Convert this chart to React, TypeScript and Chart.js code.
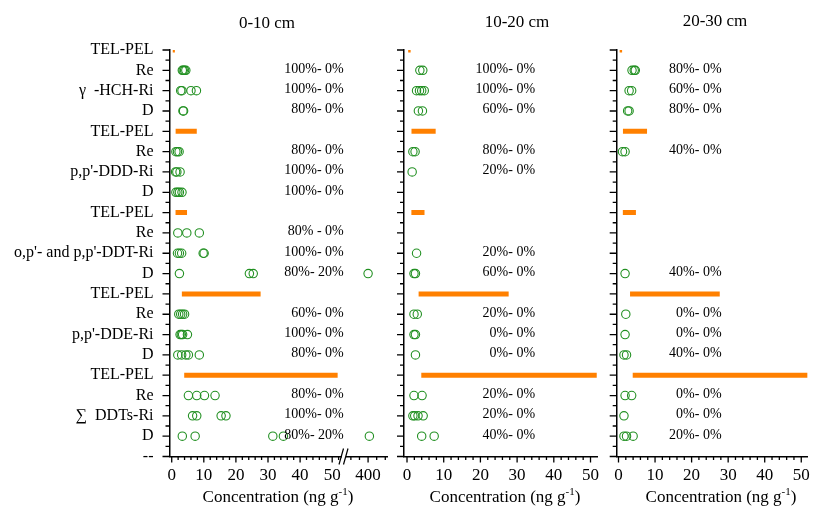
import React, { useEffect, useRef } from 'react';
import { Chart, registerables } from 'chart.js';

Chart.register(...registerables);

// ---------------- DATA ----------------
const rowLabels = [
  'TEL-PEL', 'Re', 'γ  -HCH-Ri', 'D',
  'TEL-PEL', 'Re', "p,p'-DDD-Ri", 'D',
  'TEL-PEL', 'Re', "o,p'- and p,p'-DDT-Ri", 'D',
  'TEL-PEL', 'Re', "p,p'-DDE-Ri", 'D',
  'TEL-PEL', 'Re', '∑  DDTs-Ri', 'D',
  '--',
];

const guidelineRows = [0, 4, 8, 12, 16];
const telValues = [0.32, 1.22, 1.19, 3.16, 3.89];
const pelValues = [0.99, 7.81, 4.77, 27.7, 51.7];

const xTickLabels = [0, 10, 20, 30, 40, 50];
const brokenTickLabels = [400];

const depthTitles = ['0-10 cm', '10-20 cm', '20-30 cm'];

// concentrations (ng/g) per row index
const conc0_10: number[][] = [
  [], [3.3, 3.6, 4.0, 4.4], [2.8, 3.2, 6.0, 7.7], [3.5, 3.7],
  [], [1.3, 1.8, 2.3], [1.2, 1.6, 2.6], [1.3, 1.9, 2.4, 3.2],
  [], [1.9, 4.7, 8.6], [1.8, 2.4, 3.1, 9.8, 10.1], [2.4, 24.2, 25.4, 400],
  [], [2.2, 2.8, 3.4, 4.0], [2.6, 3.0, 3.4, 4.9], [1.9, 3.1, 4.4, 5.2, 8.6],
  [], [5.2, 7.8, 10.2, 13.5], [6.5, 7.8, 15.4, 16.9], [3.3, 7.3, 31.5, 34.8, 403],
  [],
];
const conc10_20: number[][] = [
  [], [3.5, 4.3], [2.6, 3.4, 4.0, 4.7], [3.1, 4.2],
  [], [1.6, 2.2], [1.4], [],
  [], [], [2.6], [1.9, 2.3],
  [], [1.9, 2.8], [1.9, 2.3], [2.3],
  [], [1.9, 4.1], [1.6, 2.1, 3.0, 4.4], [4.0, 7.4],
  [],
];
const conc20_30: number[][] = [
  [], [3.7, 4.3, 4.6], [2.9, 3.6], [2.5, 2.9],
  [], [1.1, 1.8], [], [],
  [], [], [], [1.8],
  [], [2.0], [1.8], [1.5, 2.2],
  [], [1.8, 3.6], [1.5], [1.5, 2.2, 4.0],
  [],
];

// exceedance labels (% > TEL - % > PEL) per row index
const pct0_10 = [
  '', '100%- 0%', '100%- 0%', '80%- 0%',
  '', '80%- 0%', '100%- 0%', '100%- 0%',
  '', '80% - 0%', '100%- 0%', '80%- 20%',
  '', '60%- 0%', '100%- 0%', '80%- 0%',
  '', '80%- 0%', '100%- 0%', '80%- 20%',
  '',
];
const pct10_20 = [
  '', '100%- 0%', '100%- 0%', '60%- 0%',
  '', '80%- 0%', '20%- 0%', '',
  '', '', '20%- 0%', '60%- 0%',
  '', '20%- 0%', '0%- 0%', '0%- 0%',
  '', '20%- 0%', '20%- 0%', '40%- 0%',
  '',
];
const pct20_30 = [
  '', '80%- 0%', '60%- 0%', '80%- 0%',
  '', '40%- 0%', '', '',
  '', '', '', '40%- 0%',
  '', '0%- 0%', '0%- 0%', '40%- 0%',
  '', '0%- 0%', '0%- 0%', '20%- 0%',
  '',
];

// ---------------- STYLE / LAYOUT ----------------
const FONT = "'Liberation Serif', 'Times New Roman', serif";
const GREEN = '#229022';
const ORANGE = '#FF8000';

type Panel = {
  conc: number[][];
  pct: string[];
  title: string;
  canvasLeft: number;
  canvasWidth: number;
  yWidth: number;
  padRight: number;
  xMin: number;
  xMax: number;
  broken: boolean;
  showLabels: boolean;
  pctX: number;
  titleX: number;
  titleY: number;
  xTitleX: number;
};

const panels: Panel[] = [
  { conc: conc0_10, pct: pct0_10, title: depthTitles[0], canvasLeft: 0, canvasWidth: 400, yWidth: 169.5, padRight: 13,
    xMin: -0.69, xMax: 53.68, broken: true, showLabels: true, pctX: 53.6, titleX: 267, titleY: 28, xTitleX: 278 },
  { conc: conc10_20, pct: pct10_20, title: depthTitles[1], canvasLeft: 395, canvasWidth: 210, yWidth: 9, padRight: 7.3,
    xMin: -0.82, xMax: 51.96, broken: false, showLabels: false, pctX: 34.9, titleX: 122, titleY: 26.7, xTitleX: 110 },
  { conc: conc20_30, pct: pct20_30, title: depthTitles[2], canvasLeft: 606, canvasWidth: 207, yWidth: 10.7, padRight: 3,
    xMin: -0.49, xMax: 51.76, broken: false, showLabels: false, pctX: 28.2, titleX: 109, titleY: 26, xTitleX: 115 },
];

const decorPlugin = {
  id: 'decor',
  afterDraw(chart: any) {
    const o = chart.options.plugins.decor;
    const { ctx, chartArea } = chart;
    const ys = chart.scales.y;
    ctx.save();
    ctx.strokeStyle = '#000';
    ctx.lineWidth = 1.3;
    const ax = chartArea.left;
    const by = chartArea.bottom;
    ctx.beginPath();
    for (let i = 0; i < rowLabels.length; i++) {
      const py = ys.getPixelForValue(i);
      ctx.moveTo(ax, py);
      ctx.lineTo(ax - 7, py);
      if (i < rowLabels.length - 1) {
        const pm = ys.getPixelForValue(i + 0.5);
        ctx.moveTo(ax, pm);
        ctx.lineTo(ax - 4, pm);
      }
    }
    for (const t of o.xTickSets) {
      const s = chart.scales[t.id];
      for (let v = t.from; v <= t.to + 1e-9; v += t.minorStep) {
        const isMajor = t.major.some((m: number) => Math.abs(m - v) < 1e-9);
        const px = s.getPixelForValue(v);
        ctx.moveTo(px, by);
        ctx.lineTo(px, by + (isMajor ? 6 : 3.5));
      }
    }
    ctx.stroke();

    if (o.broken) {
      const bx = chart.scales.x.right;
      ctx.fillStyle = '#fff';
      ctx.fillRect(bx - 2, by - 2, 4, 4);
      ctx.beginPath();
      ctx.lineWidth = 1.2;
      ctx.moveTo(bx - 5, by + 8);
      ctx.lineTo(bx - 0.5, by - 8);
      ctx.moveTo(bx - 0.5, by + 8);
      ctx.lineTo(bx + 4, by - 8);
      ctx.stroke();
    }

    // exceedance labels
    ctx.fillStyle = '#000';
    ctx.font = `14px ${FONT}`;
    ctx.textAlign = 'right';
    ctx.textBaseline = 'alphabetic';
    const xs = chart.scales.x;
    const rx = xs.getPixelForValue(o.pctX);
    o.pct.forEach((txt: string, i: number) => {
      if (!txt) return;
      ctx.fillText(txt, rx, ys.getPixelForValue(i) + 2.5);
    });

    // panel title
    ctx.font = `17px ${FONT}`;
    ctx.textAlign = 'center';
    ctx.fillText(o.title, o.titleX, o.titleY);

    // x title with superscript
    const main = 'Concentration (ng g';
    const sup = '-1';
    const end = ')';
    ctx.font = `17px ${FONT}`;
    const w1 = ctx.measureText(main).width;
    const w3 = ctx.measureText(end).width;
    ctx.font = `11px ${FONT}`;
    const w2 = ctx.measureText(sup).width;
    let x = o.xTitleX - (w1 + w2 + w3) / 2;
    const base = 502;
    ctx.textAlign = 'left';
    ctx.font = `17px ${FONT}`;
    ctx.fillText(main, x, base);
    x += w1;
    ctx.font = `11px ${FONT}`;
    ctx.fillText(sup, x, base - 7);
    x += w2;
    ctx.font = `17px ${FONT}`;
    ctx.fillText(end, x, base);
    ctx.restore();
  },
};

function buildConfig(p: Panel): any {
  const datasets: any[] = [];
  guidelineRows.forEach((row, i) => {
    datasets.push({
      type: 'line',
      data: [{ x: telValues[i], y: row }, { x: pelValues[i], y: row }],
      borderColor: ORANGE,
      borderWidth: 5,
      borderCapStyle: 'butt',
      pointRadius: 0,
      tension: 0,
      fill: false,
      xAxisID: 'x',
      yAxisID: 'y',
    });
  });
  const mainPts: any[] = [];
  const brokenPts: any[] = [];
  p.conc.forEach((vals, row) => {
    vals.forEach((v) => {
      if (p.broken && v > 100) brokenPts.push({ x: v, y: row });
      else mainPts.push({ x: v, y: row });
    });
  });
  const ptStyle = {
    type: 'scatter',
    pointRadius: 4.2,
    pointHoverRadius: 4.2,
    pointBorderWidth: 1.1,
    pointBorderColor: GREEN,
    pointBackgroundColor: 'rgba(0,0,0,0)',
    yAxisID: 'y',
  };
  datasets.push({ ...ptStyle, data: mainPts, xAxisID: 'x' });
  if (p.broken) datasets.push({ ...ptStyle, data: brokenPts, xAxisID: 'x2' });

  const border = { display: true, color: '#000', width: 1.5 };
  const xFit = (s: any) => {
    s.height = 51.5;
    s.paddingLeft = 0;
    s.paddingRight = 0;
  };
  const scales: any = {
    y: {
      type: 'linear',
      position: 'left',
      min: 0,
      max: rowLabels.length - 1,
      reverse: true,
      afterBuildTicks: (s: any) => {
        s.ticks = rowLabels.map((_, i) => ({ value: i }));
      },
      afterFit: (s: any) => {
        s.width = p.yWidth;
        s.paddingTop = 0;
        s.paddingBottom = 0;
      },
      grid: { display: false, drawTicks: false },
      border,
      ticks: {
        display: p.showLabels,
        autoSkip: false,
        padding: 16,
        color: '#000',
        font: { size: 16, family: FONT },
        callback: (v: any) => rowLabels[v] ?? '',
      },
    },
    x: {
      type: 'linear',
      position: 'bottom',
      min: p.xMin,
      max: p.xMax,
      afterBuildTicks: (s: any) => {
        s.ticks = xTickLabels.map((v) => ({ value: v }));
      },
      afterFit: xFit,
      grid: { display: false, drawTicks: false },
      border,
      ticks: { autoSkip: false, maxRotation: 0, padding: 9, color: '#000', font: { size: 17, family: FONT } },
    },
  };
  const xTickSets: any[] = [{ id: 'x', major: xTickLabels, minorStep: 2, from: 0, to: p.broken ? 52 : 50 }];
  if (p.broken) {
    scales.x.stack = 'xs';
    scales.x.stackWeight = 174.5;
    scales.x2 = {
      type: 'linear',
      position: 'bottom',
      stack: 'xs',
      stackWeight: 43,
      min: 344,
      max: 444,
      afterBuildTicks: (s: any) => {
        s.ticks = brokenTickLabels.map((v) => ({ value: v }));
      },
      afterFit: xFit,
      grid: { display: false, drawTicks: false },
      border,
      ticks: { autoSkip: false, maxRotation: 0, padding: 9, color: '#000', font: { size: 17, family: FONT } },
    };
    xTickSets.push({ id: 'x2', major: brokenTickLabels, minorStep: 20, from: 360, to: 440 });
  }

  return {
    type: 'scatter',
    data: { datasets },
    options: {
      animation: false,
      responsive: false,
      maintainAspectRatio: false,
      devicePixelRatio: 1,
      events: [],
      layout: { padding: { top: 50, right: p.padRight, left: 0, bottom: 0 } },
      scales,
      plugins: {
        legend: { display: false },
        tooltip: { enabled: false },
        decor: {
          pct: p.pct,
          pctX: p.pctX,
          title: p.title,
          titleX: p.titleX,
          titleY: p.titleY,
          xTitleX: p.xTitleX,
          broken: p.broken,
          xTickSets,
        },
      },
    },
    plugins: [decorPlugin],
  };
}

export default function App() {
  const r0 = useRef<HTMLCanvasElement>(null);
  const r1 = useRef<HTMLCanvasElement>(null);
  const r2 = useRef<HTMLCanvasElement>(null);
  const refs = [r0, r1, r2];
  useEffect(() => {
    Chart.defaults.font.family = FONT;
    const charts = panels.map((p, i) => new Chart(refs[i].current as HTMLCanvasElement, buildConfig(p)));
    return () => charts.forEach((c) => c.destroy());
  }, []);
  return (
    <div style={{ position: 'fixed', left: 0, top: 0, width: 813, height: 508, background: '#fff', overflow: 'hidden' }}>
      {panels.map((p, i) => (
        <canvas
          key={i}
          ref={refs[i]}
          width={p.canvasWidth}
          height={508}
          style={{ position: 'absolute', left: p.canvasLeft, top: 0, width: p.canvasWidth, height: 508 }}
        />
      ))}
    </div>
  );
}
